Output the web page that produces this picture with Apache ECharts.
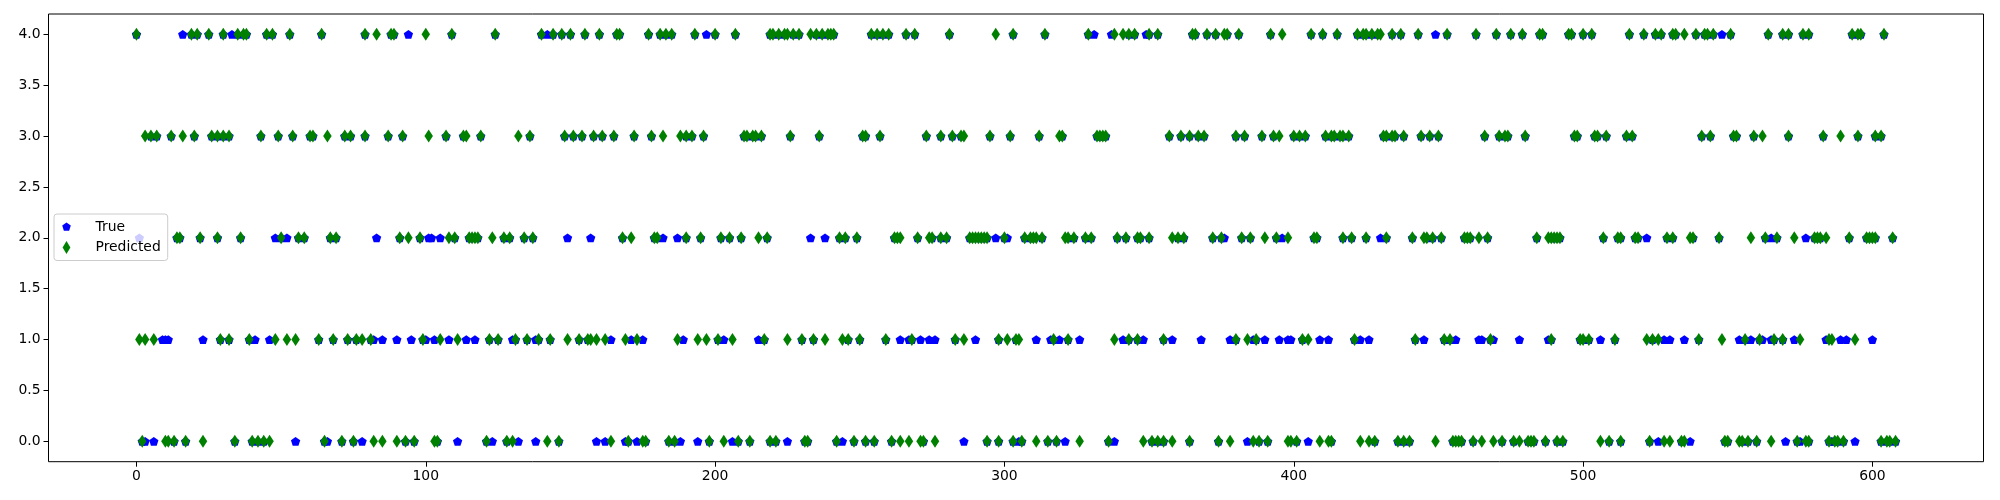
<!DOCTYPE html>
<html>
<head>
<meta charset="utf-8">
<script src="https://cdn.jsdelivr.net/npm/echarts@6/dist/echarts.min.js"></script>
<style>
html,body{margin:0;padding:0;background:#fff;}
#chart{width:2000px;height:500px;}
</style>
</head>
<body>
<div id="chart"></div>
<script>
// ---- data (sample index on x, class label on y) ----
const xTicks = [0, 100, 200, 300, 400, 500, 600];
const yTicks = [0, 0.5, 1, 1.5, 2, 2.5, 3, 3.5, 4];
const seriesNames = ['True', 'Predicted'];

// Predicted class: sample indices predicted as 0..4
const pred0 = [2,10,11,13,17,23,34,40,42,44,46,65,71,75,82,85,90,93,96,103,104,121,128,130,142,146,164,170,175,176,184,186,198,203,208,212,219,221,231,232,242,248,252,255,261,264,267,271,272,276,294,298,303,306,311,315,318,326,336,348,351,353,355,358,364,374,378,386,388,391,398,399,401,409,412,413,423,426,428,436,438,440,449,455,456,457,458,462,465,469,472,476,478,481,482,483,487,491,493,506,509,513,523,528,530,534,535,549,550,554,555,557,560,565,574,577,578,585,587,588,590,603,605,606,608];
const pred1 = [1,3,6,29,32,39,48,52,55,63,68,73,76,78,81,99,105,111,122,125,131,135,139,143,149,153,156,157,159,162,169,173,187,194,197,201,206,217,225,230,234,238,244,246,250,259,268,283,286,298,301,304,305,317,322,338,343,346,355,380,384,387,403,405,421,442,452,454,468,489,499,500,502,511,522,524,526,540,548,556,561,566,569,575,585,586,594];
const pred2 = [14,15,22,28,36,50,56,58,67,69,91,94,98,108,110,115,116,117,118,123,127,129,134,137,168,171,179,180,190,195,202,205,209,215,218,243,245,249,262,263,264,270,274,275,278,280,288,289,290,291,292,293,294,300,307,309,310,311,313,321,322,324,328,330,339,342,346,347,350,358,360,362,372,375,382,385,390,394,398,407,408,417,420,425,432,441,445,446,448,451,459,460,461,464,467,484,488,489,490,491,492,507,512,513,518,519,529,531,537,538,547,558,563,567,573,580,581,582,584,592,598,599,600,601,607];
const pred3 = [3,5,7,12,16,20,26,28,30,32,43,49,54,60,61,66,72,74,79,87,92,101,107,113,114,119,132,136,148,151,154,158,161,165,172,178,182,188,190,192,196,210,211,213,214,216,226,236,251,252,257,273,278,282,285,286,295,302,312,319,320,332,333,334,335,357,361,364,367,369,380,383,389,393,395,400,402,404,411,413,414,416,417,419,431,432,434,435,438,444,447,450,466,471,473,474,480,497,498,504,505,508,515,517,541,544,552,553,559,562,571,583,589,595,601,603];
const pred4 = [0,19,21,25,30,35,37,38,45,47,53,64,79,83,88,89,100,109,124,140,144,147,150,155,160,166,167,177,181,183,185,193,200,207,219,220,222,224,225,227,229,233,235,237,239,240,241,254,256,258,260,266,269,281,297,303,314,329,338,341,343,345,350,353,365,366,370,373,376,377,381,392,396,406,410,415,422,424,425,427,429,430,434,437,443,453,463,470,475,479,485,486,495,496,500,503,516,521,525,527,531,532,535,539,542,543,545,551,564,569,571,576,578,593,595,596,604];

// True class where it differs from the prediction (visible blue markers)
const true0 = [3,6,55,66,78,111,123,132,138,159,162,169,173,188,194,206,225,244,286,305,321,338,384,405,526,537,570,575,586,594];
const true1 = [9,10,11,23,41,46,82,85,90,95,100,103,108,114,117,130,138,164,171,175,189,203,215,264,267,271,274,276,290,311,316,319,326,341,348,358,368,378,386,390,395,398,399,409,412,423,426,445,456,464,465,469,478,488,506,528,530,535,554,558,562,565,573,584,589,591,600];
const true2 = [1,48,52,83,101,102,105,149,157,182,187,233,238,297,301,376,396,430,522,565,577];
const true3 = [];
const true4 = [16,33,94,142,197,331,337,349,449,548];

// ---- build series data ----
const predRows = [pred0, pred1, pred2, pred3, pred4];
const trueRows = [true0, true1, true2, true3, true4];
const differing = new Set(trueRows.flat());
const predData = [];
predRows.forEach((arr, r) => arr.forEach(i => predData.push([i, r])));
const trueData = [];
predRows.forEach((arr, r) => arr.forEach(i => { if (!differing.has(i)) trueData.push([i, r]); }));
trueRows.forEach((arr, r) => arr.forEach(i => trueData.push([i, r])));

const pentagon = 'path://M0,-1L0.951,-0.309L0.588,0.809L-0.588,0.809L-0.951,-0.309Z';
const pentagonLegend = 'path://M-1.45,-1.45M1.45,1.45M0,-1L0.951,-0.309L0.588,0.809L-0.588,0.809L-0.951,-0.309Z';
const thinDiamond = 'path://M0,-1L0.6,0L0,1L-0.6,0Z';

const font = 'DejaVu Sans';
const chart = echarts.init(document.getElementById('chart'), null, {renderer: 'canvas', width: 2000, height: 500});
chart.setOption({
  animation: false,
  backgroundColor: '#ffffff',
  grid: {
    left: 48.5, right: 16.5, top: 14, bottom: 38.3,
    show: true, borderColor: '#000', borderWidth: 1, backgroundColor: 'transparent',
    containLabel: false, outerBoundsMode: 'none'
  },
  xAxis: {
    type: 'value', min: -30.4, max: 638.4, position: 'bottom',
    splitLine: {show: false},
    axisLine: {show: false, onZero: false},
    axisTick: {show: true, inside: false, length: 5, customValues: xTicks, lineStyle: {color: '#000', width: 1}},
    axisLabel: {customValues: xTicks, color: '#000', fontFamily: font, fontSize: 13.9, margin: 8,
                formatter: v => String(v)}
  },
  yAxis: {
    type: 'value', min: -0.2, max: 4.2, position: 'left',
    splitLine: {show: false},
    axisLine: {show: false, onZero: false},
    axisTick: {show: true, inside: false, length: 5, customValues: yTicks, lineStyle: {color: '#000', width: 1}},
    axisLabel: {customValues: yTicks, color: '#000', fontFamily: font, fontSize: 13.9, margin: 8,
                formatter: v => v.toFixed(1)}
  },
  legend: {
    orient: 'vertical', left: 54, top: 214,
    backgroundColor: 'rgba(255,255,255,0.8)', borderColor: '#cccccc', borderWidth: 1, borderRadius: 3,
    padding: [6, 7, 6, 6], itemGap: 6.5, itemWidth: 28, itemHeight: 13,
    textStyle: {fontFamily: font, fontSize: 13.9, color: '#000', padding: [0, 0, 0, 10]},
    data: [
      {name: seriesNames[0], icon: pentagonLegend},
      {name: seriesNames[1], icon: thinDiamond}
    ]
  },
  series: [
    {
      name: seriesNames[0], type: 'scatter', data: trueData,
      symbol: pentagon, symbolSize: [9.3, 8.9],
      itemStyle: {color: '#0000ff', opacity: 1}
    },
    {
      name: seriesNames[1], type: 'scatter', data: predData,
      symbol: thinDiamond, symbolSize: [8.5, 13],
      itemStyle: {color: '#008000', opacity: 1}
    }
  ]
});
</script>
</body>
</html>
